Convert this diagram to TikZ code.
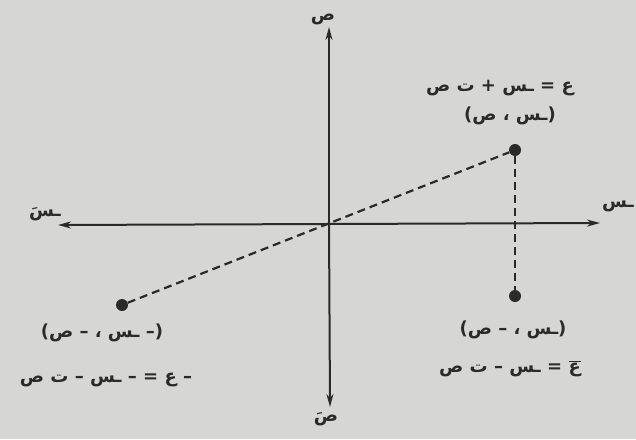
\documentclass[tikz,border=0pt]{standalone}
\usepackage{fontspec}
\usetikzlibrary{arrows.meta}
\newfontfamily\arabicfont[Script=Arabic]{DejaVu Sans}
\TeXXeTstate=1
\definecolor{bg}{RGB}{214,214,210}
\definecolor{ink}{RGB}{42,42,42}
\newcommand{\ar}[1]{{\arabicfont\bfseries\beginR #1\endR}}
\begin{document}
\begin{tikzpicture}[x=1pt,y=-1pt,
  axis/.style={draw=ink,line width=2pt,-{Stealth[length=13pt,width=7pt]}},
  dline/.style={draw=ink,line width=2.2pt,dash pattern=on 8pt off 5pt},
  dot/.style={circle,fill=ink,inner sep=0pt,minimum size=12pt},
  lbl/.style={text=ink,inner sep=0pt,font=\fontsize{18}{21}\selectfont}]
\fill[bg] (0,0) rectangle (636,439);
\useasboundingbox (0,0) rectangle (636,439);
\coordinate (O) at (329,224);
\coordinate (xl) at (58,225);
\coordinate (xr) at (600,223);
\coordinate (yt) at (329,27);
\coordinate (yb) at (330,407);
\draw[axis] (O) -- (xl);
\draw[axis] (O) -- (xr);
\draw[axis] (O) -- (yt);
\draw[axis] (O) -- (yb);
\node[dot] (P) at (515,150) {};
\node[dot] (Q) at (515,296) {};
\node[dot] (R) at (122,305) {};
\draw[dline] (R) -- (P);
\draw[dline] (P) -- (Q);
\node[lbl] (ly) at (323,19) {\ar{ص}};
\node[lbl] (lyp) at (326,419) {\ar{صَ}};
\node[lbl] (lxp) at (45,214) {\ar{ـسَ}};
\node[lbl,anchor=east] (lx) at (634,206) {\ar{ـس}};
\node[lbl] (t1) at (500,88) {\ar{ع = ـس + ت ص}};
\node[lbl] (t2) at (510,116) {\ar{(ـس ، ص)}};
\node[lbl] (b1) at (513,330) {\ar{(ـس ، – ص)}};
\node[lbl] (b2) at (510,369) {\ar{$\overline{\hbox{\arabicfont\bfseries ع}}$ = ـس – ت ص}};
\node[lbl] (c1) at (102,333) {\ar{(– ـس ، – ص)}};
\node[lbl] (c2) at (106,380) {\ar{– ع = – ـس – ت ص}};
\end{tikzpicture}
\end{document}
